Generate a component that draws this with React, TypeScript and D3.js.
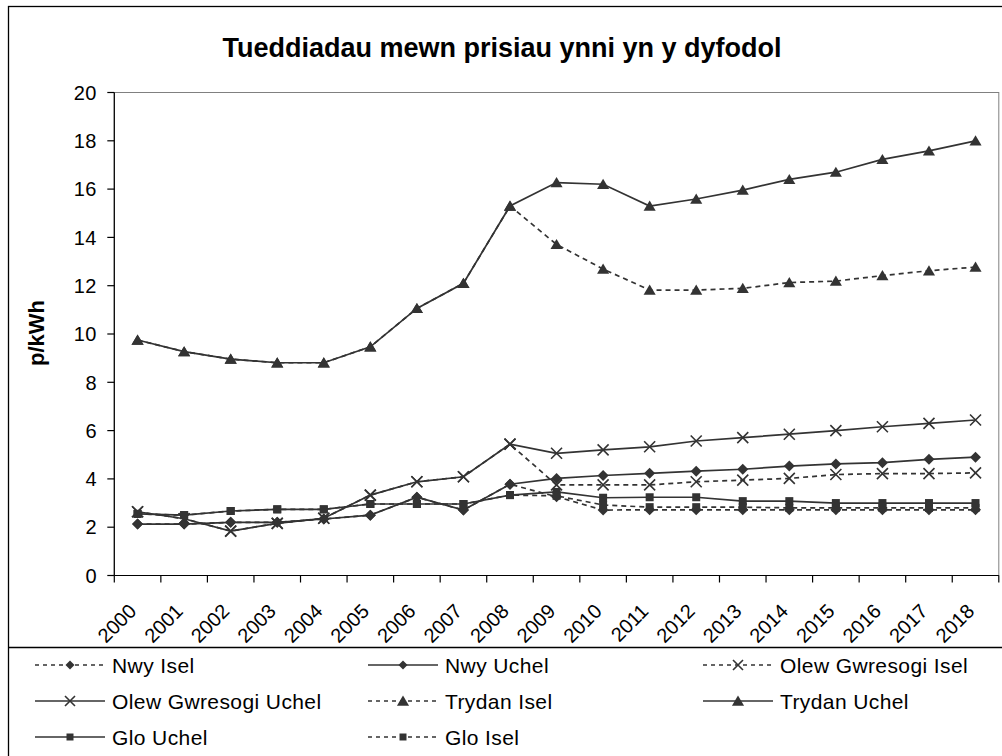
import React from "react";
import * as d3 from "d3";

const years = ["2000","2001","2002","2003","2004","2005","2006","2007","2008","2009","2010","2011","2012","2013","2014","2015","2016","2017","2018"];

const nwyIsel = [2.13, 2.13, 2.2, 2.2, 2.34, 2.5, 3.24, 2.71, 3.78, 3.26, 2.71, 2.72, 2.72, 2.72, 2.72, 2.72, 2.72, 2.72, 2.72];
const nwyUchel = [2.13, 2.13, 2.2, 2.2, 2.34, 2.5, 3.24, 2.71, 3.78, 4.02, 4.14, 4.23, 4.32, 4.4, 4.53, 4.62, 4.67, 4.81, 4.9];
const olewIsel = [2.64, 2.35, 1.84, 2.16, 2.37, 3.33, 3.88, 4.09, 5.44, 3.75, 3.75, 3.75, 3.88, 3.95, 4.02, 4.18, 4.22, 4.22, 4.25];
const olewUchel = [2.64, 2.35, 1.84, 2.16, 2.37, 3.33, 3.88, 4.09, 5.44, 5.06, 5.2, 5.33, 5.57, 5.71, 5.85, 6.0, 6.16, 6.3, 6.44];
const trydanIsel = [9.75, 9.27, 8.96, 8.81, 8.81, 9.47, 11.06, 12.1, 15.3, 13.71, 12.69, 11.82, 11.82, 11.89, 12.13, 12.19, 12.42, 12.62, 12.77];
const trydanUchel = [9.75, 9.27, 8.96, 8.81, 8.81, 9.47, 11.06, 12.1, 15.3, 16.27, 16.2, 15.3, 15.59, 15.96, 16.4, 16.7, 17.23, 17.58, 18.0];
const gloUchel = [2.55, 2.5, 2.67, 2.74, 2.74, 2.96, 2.96, 2.96, 3.33, 3.46, 3.22, 3.24, 3.24, 3.08, 3.08, 3.0, 3.0, 3.0, 3.0];
const gloIsel = [2.55, 2.5, 2.67, 2.74, 2.74, 2.96, 2.96, 2.96, 3.33, 3.3, 2.92, 2.83, 2.83, 2.83, 2.8, 2.8, 2.8, 2.8, 2.8];

const yTicks = [0, 2, 4, 6, 8, 10, 12, 14, 16, 18, 20];

type Marker = "diamond" | "cross" | "triangle" | "square";
const series: { name: string; values: number[]; dashed: boolean; marker: Marker }[] = [
  { name: "Nwy Isel", values: nwyIsel, dashed: true, marker: "diamond" },
  { name: "Nwy Uchel", values: nwyUchel, dashed: false, marker: "diamond" },
  { name: "Olew Gwresogi Isel", values: olewIsel, dashed: true, marker: "cross" },
  { name: "Olew Gwresogi Uchel", values: olewUchel, dashed: false, marker: "cross" },
  { name: "Trydan Isel", values: trydanIsel, dashed: true, marker: "triangle" },
  { name: "Trydan Uchel", values: trydanUchel, dashed: false, marker: "triangle" },
  { name: "Glo Uchel", values: gloUchel, dashed: false, marker: "square" },
  { name: "Glo Isel", values: gloIsel, dashed: true, marker: "square" },
];

const FONT = "'Liberation Sans', Arial, Helvetica, sans-serif";
const INK = "#333333";

function markerPath(type: Marker, s: number): string {
  const h = s / 2;
  switch (type) {
    case "diamond":
      return `M0,${-h}L${h},0L0,${h}L${-h},0Z`;
    case "square":
      return `M${-h},${-h}H${h}V${h}H${-h}Z`;
    case "triangle":
      return `M0,${-h}L${h * 1.1},${h * 0.85}L${-h * 1.1},${h * 0.85}Z`;
    case "cross":
      return `M${-h},${-h}L${h},${h}M${h},${-h}L${-h},${h}`;
  }
}

function MarkerShape({ type, x, y, size }: { type: Marker; x: number; y: number; size: number }) {
  const d = markerPath(type, size);
  if (type === "cross") {
    return <path d={d} transform={`translate(${x},${y})`} fill="none" stroke={INK} strokeWidth={1.6} />;
  }
  return <path d={d} transform={`translate(${x},${y})`} fill={INK} stroke="none" />;
}

const markerSize: Record<Marker, number> = { diamond: 11, square: 8, triangle: 11, cross: 11 };
const legendMarkerSize: Record<Marker, number> = { diamond: 9, square: 7, triangle: 11, cross: 10 };

export default function App() {
  const W = 1002, H = 756;
  const plotL = 114.3, plotR = 998.8, plotT = 92.5, plotB = 575.5;

  const x = d3.scaleBand<string>().domain(years).range([plotL, plotR]).padding(0);
  const cx = (yr: string) => (x(yr) as number) + x.bandwidth() / 2;
  const y = d3.scaleLinear().domain([0, 20]).range([plotB, plotT]);

  const line = d3.line<number>()
    .x((_, i) => cx(years[i]))
    .y((v) => y(v));

  const legendCols = [35, 368, 703];
  const legendRows = [665, 701, 737];

  return (
    <svg width={W} height={H} style={{ position: "absolute", left: 0, top: 0, background: "#fff" }} fontFamily={FONT}>
      <rect x={0} y={0} width={W} height={H} fill="#fff" />
      <rect x={8.5} y={6.5} width={1000} height={800} fill="none" stroke="#000" strokeWidth={1.3} />

      <text x={502} y={57} textAnchor="middle" fontSize={27} fontWeight="bold" fill="#000">
        Tueddiadau mewn prisiau ynni yn y dyfodol
      </text>

      <rect x={plotL} y={plotT} width={plotR - plotL} height={plotB - plotT} fill="none" stroke="#808080" strokeWidth={1} />

      <line x1={plotL} x2={plotL} y1={plotT} y2={plotB} stroke="#000" strokeWidth={1.2} />
      {yTicks.map((t) => (
        <g key={t}>
          <line x1={plotL - 7} x2={plotL} y1={y(t)} y2={y(t)} stroke="#000" strokeWidth={1.2} />
          <text x={97} y={y(t)} dy="0.36em" textAnchor="end" fontSize={20} letterSpacing={0.5} fill="#000">{t}</text>
        </g>
      ))}
      <text transform={`translate(44,333) rotate(-90)`} textAnchor="middle" fontSize={22} fontWeight="bold" fill="#000">p/kWh</text>

      <line x1={plotL} x2={plotR} y1={plotB} y2={plotB} stroke="#000" strokeWidth={1.2} />
      {years.map((yr) => (
        <line key={"t" + yr} x1={x(yr) as number} x2={x(yr) as number} y1={plotB} y2={plotB + 7} stroke="#000" strokeWidth={1.2} />
      ))}
      <line x1={plotR} x2={plotR} y1={plotB} y2={plotB + 7} stroke="#000" strokeWidth={1.2} />
      {years.map((yr) => (
        <text key={"l" + yr} transform={`translate(${cx(yr)},612.5) rotate(-45)`} textAnchor="end" fontSize={20} fill="#000">{yr}</text>
      ))}

      {series.map((s) => (
        <path key={"p" + s.name} d={line(s.values) || ""} fill="none" stroke={INK} strokeWidth={1.7}
          strokeDasharray={s.dashed ? "5,4" : undefined} />
      ))}
      {series.map((s) => (
        <g key={"m" + s.name}>
          {s.values.map((v, i) => (
            <MarkerShape key={i} type={s.marker} x={cx(years[i])} y={y(v)} size={markerSize[s.marker]} />
          ))}
        </g>
      ))}

      <line x1={8} x2={W} y1={647.5} y2={647.5} stroke="#000" strokeWidth={1.3} />
      {series.map((s, i) => {
        const col = i % 3;
        const row = Math.floor(i / 3);
        const lx = legendCols[col];
        const ly = legendRows[row];
        return (
          <g key={"lg" + s.name}>
            <line x1={lx} x2={lx + 70} y1={ly} y2={ly} stroke={INK} strokeWidth={1.5} strokeDasharray={s.dashed ? "4,4" : undefined} />
            <MarkerShape type={s.marker} x={lx + 35} y={ly} size={legendMarkerSize[s.marker]} />
            <text x={lx + 77} y={ly} dy="0.36em" fontSize={21} letterSpacing={0.4} fill="#000">{s.name}</text>
          </g>
        );
      })}
    </svg>
  );
}
